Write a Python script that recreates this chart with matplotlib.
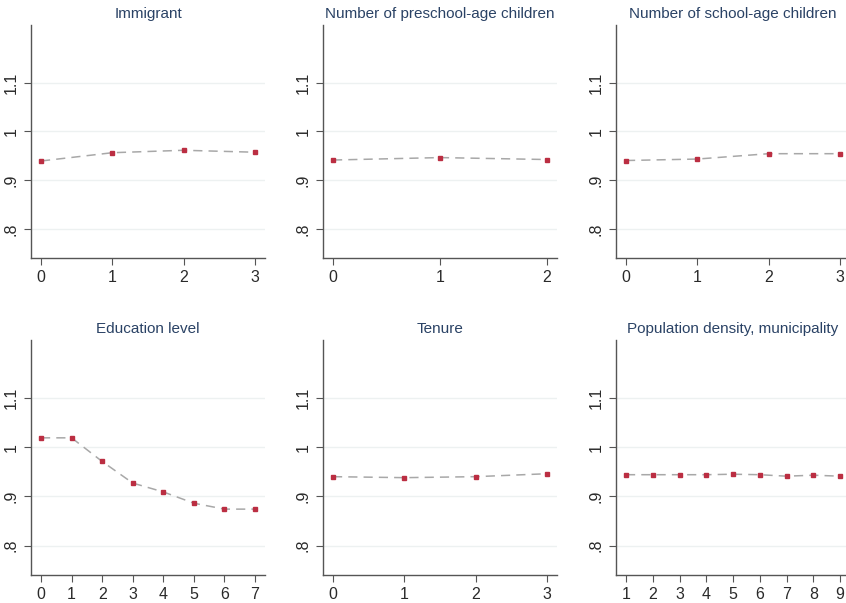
import matplotlib; matplotlib.use("Agg")
import matplotlib.pyplot as plt

plt.rcParams.update({"font.family": ["Liberation Sans", "DejaVu Sans"], "font.size": 10})
TITLE_C = "#2a4265"; MARK_C = "#bb2e42"; LINE_C = "#a8a8a8"; GRID_C = "#edf1f1"; AX_C = "#555555"

titles = ["Immigrant", "Number of preschool-age children", "Number of school-age children",
          "Education level", "Tenure", "Population density, municipality"]
x_immig = [0, 1, 2, 3];            y_immig = [0.939, 0.956, 0.961, 0.957]
x_presch = [0, 1, 2];              y_presch = [0.941, 0.946, 0.942]
x_school = [0, 1, 2, 3];           y_school = [0.940, 0.943, 0.954, 0.954]
x_educ = [0, 1, 2, 3, 4, 5, 6, 7]; y_educ = [1.019, 1.019, 0.971, 0.927, 0.909, 0.886, 0.874, 0.874]
x_tenure = [0, 1, 2, 3];           y_tenure = [0.940, 0.938, 0.940, 0.946]
x_dens = [1, 2, 3, 4, 5, 6, 7, 8, 9]
y_dens = [0.944, 0.944, 0.944, 0.944, 0.945, 0.944, 0.941, 0.943, 0.941]
series = [(x_immig, y_immig), (x_presch, y_presch), (x_school, y_school),
          (x_educ, y_educ), (x_tenure, y_tenure), (x_dens, y_dens)]
yticks = [0.8, 0.9, 1.0, 1.1]; ylabels = [".8", ".9", "1", "1.1"]

W, H = 846, 603
fig = plt.figure(figsize=(W/100, H/100), dpi=100)
lefts = [31, 323, 616]
rows = [(25, 258), (340, 575)]

for k, (title, (xs, ys)) in enumerate(zip(titles, series)):
    r, c = divmod(k, 3)
    top, bot = rows[r]
    ax = fig.add_axes([lefts[c]/W, 1-bot/H, 234/W, (bot-top)/H])
    ax.plot(xs, ys, ls=(0, (6, 4)), color=LINE_C, lw=1.1, zorder=2)
    ax.plot(xs, ys, ls="none", marker="s", ms=3.5, color=MARK_C, zorder=3)
    pad = (xs[-1]-xs[0])*10/214
    ax.set_xlim(xs[0]-pad, xs[-1]+pad)
    ax.set_ylim(0.74, 1.218)
    ax.set_xticks(xs)
    ax.set_yticks(yticks)
    ax.set_yticklabels(ylabels, rotation=90, va="center")
    ax.grid(axis="y", color=GRID_C, lw=1.0)
    ax.set_axisbelow(True)
    for s in ["top", "right"]:
        ax.spines[s].set_visible(False)
    for s in ["left", "bottom"]:
        ax.spines[s].set_color(AX_C); ax.spines[s].set_linewidth(1.0)
    ax.tick_params(colors=AX_C, labelcolor="#2a2a2a", length=5, labelsize=11.5)
    ax.tick_params(axis="y", pad=4)
    ax.set_title(title, color=TITLE_C, fontsize=11, pad=5)

fig.savefig("out.png", dpi=100)
